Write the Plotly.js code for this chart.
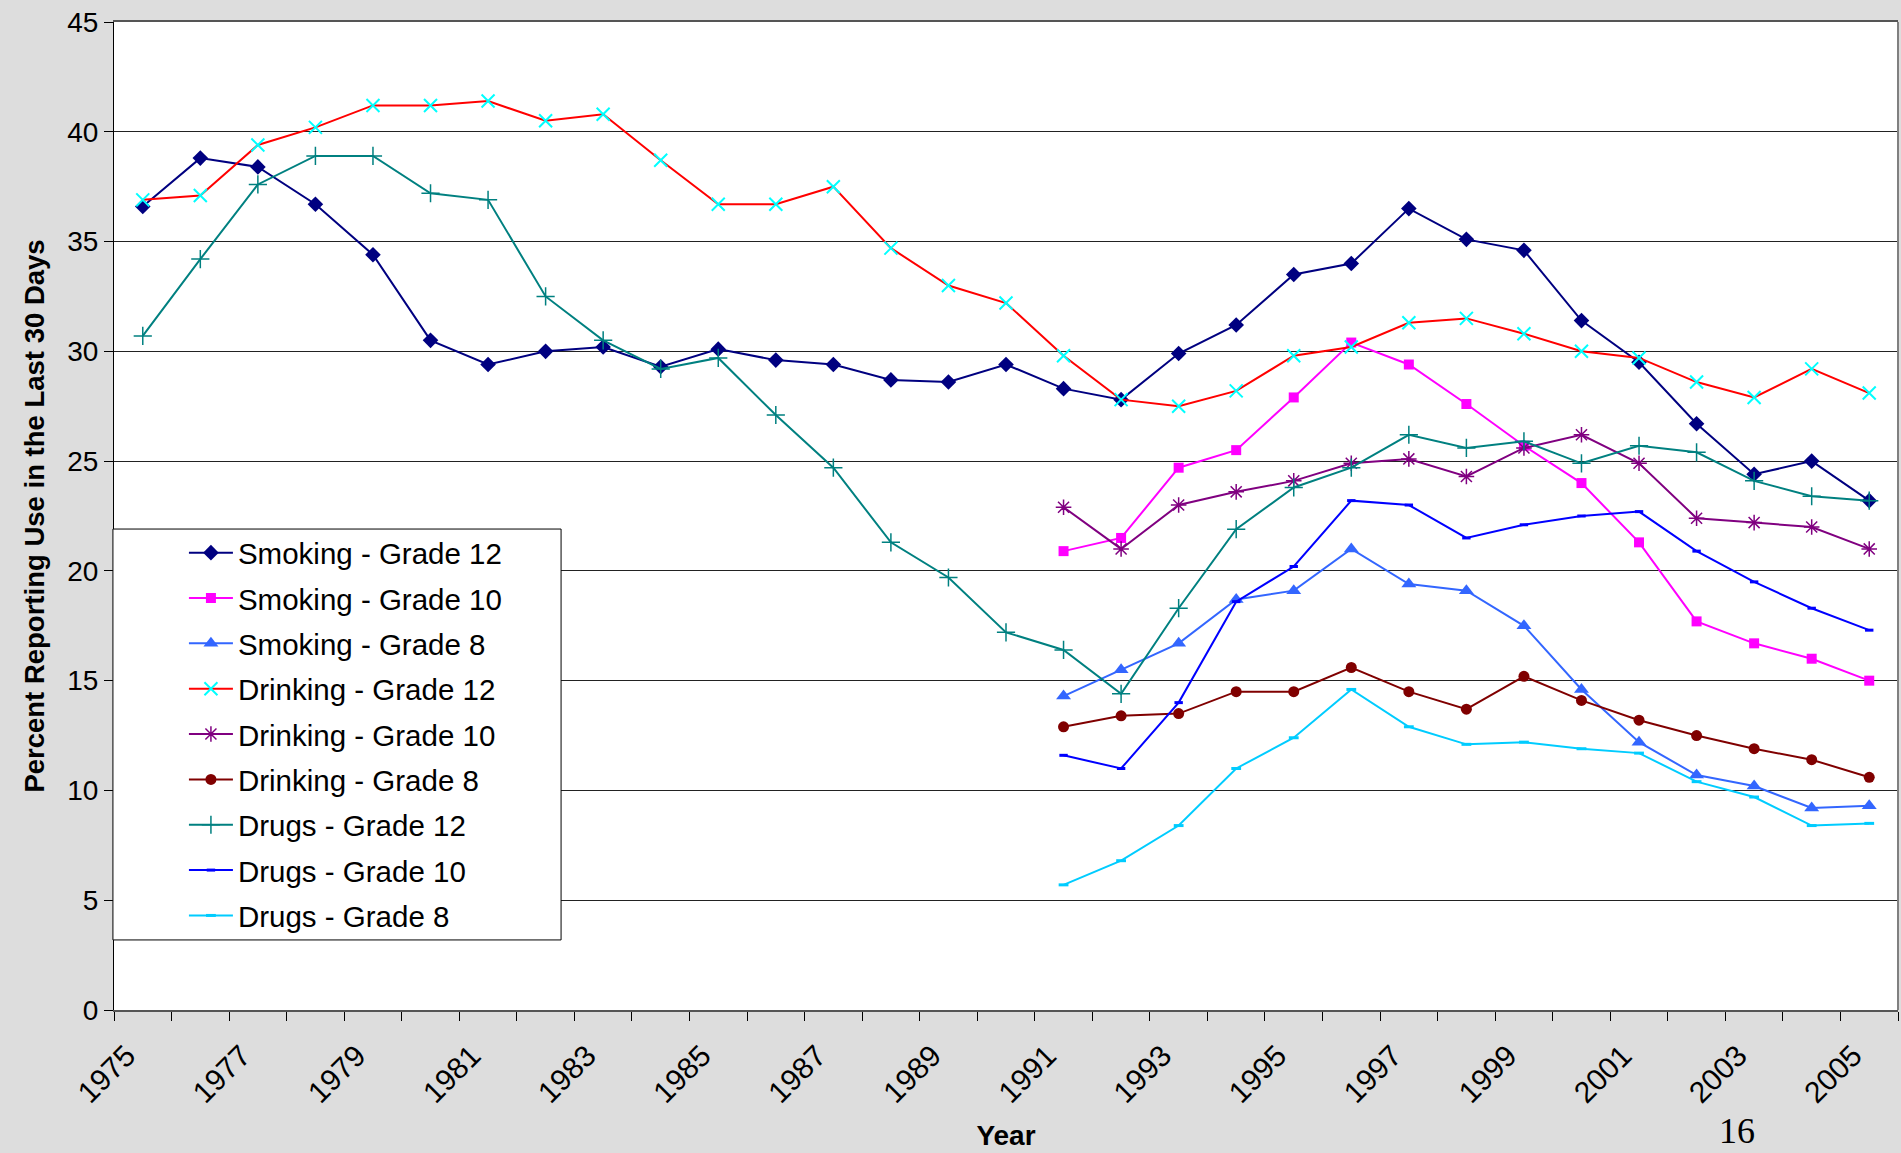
<!DOCTYPE html>
<html>
<head>
<meta charset="utf-8">
<script src="https://cdn.plot.ly/plotly-3.0.1.min.js"></script>
<style>
  html, body { margin: 0; padding: 0; background: #dddddd; }
  #chart { width: 1901px; height: 1153px; }
</style>
</head>
<body>
<div id="chart"></div>
<script>
// ---- Data (percent reporting use in the last 30 days) ----
const yearsAll = [1975,1976,1977,1978,1979,1980,1981,1982,1983,1984,1985,1986,1987,1988,1989,1990,
                  1991,1992,1993,1994,1995,1996,1997,1998,1999,2000,2001,2002,2003,2004,2005];
const yearsRecent = [1991,1992,1993,1994,1995,1996,1997,1998,1999,2000,2001,2002,2003,2004,2005];

const smokingGrade12 = [36.6,38.8,38.4,36.7,34.4,30.5,29.4,30.0,30.2,29.3,30.1,29.6,29.4,28.7,28.6,29.4,
                        28.3,27.8,29.9,31.2,33.5,34.0,36.5,35.1,34.6,31.4,29.5,26.7,24.4,25.0,23.2];
const smokingGrade10 = [20.9,21.5,24.7,25.5,27.9,30.4,29.4,27.6,25.7,24.0,21.3,17.7,16.7,16.0,15.0];
const smokingGrade8  = [14.3,15.5,16.7,18.7,19.1,21.0,19.4,19.1,17.5,14.6,12.2,10.7,10.2,9.2,9.3];

const drinkingGrade12 = [36.9,37.1,39.4,40.2,41.2,41.2,41.4,40.5,40.8,38.7,36.7,36.7,37.5,34.7,33.0,32.2,
                         29.8,27.8,27.5,28.2,29.8,30.2,31.3,31.5,30.8,30.0,29.7,28.6,27.9,29.2,28.1];
const drinkingGrade10 = [22.9,21.0,23.0,23.6,24.1,24.9,25.1,24.3,25.6,26.2,24.9,22.4,22.2,22.0,21.0];
const drinkingGrade8  = [12.9,13.4,13.5,14.5,14.5,15.6,14.5,13.7,15.2,14.1,13.2,12.5,11.9,11.4,10.6];

const drugsGrade12 = [30.7,34.2,37.6,38.9,38.9,37.2,36.9,32.5,30.5,29.2,29.7,27.1,24.7,21.3,19.7,17.2,
                      16.4,14.4,18.3,21.9,23.8,24.7,26.2,25.6,25.9,24.9,25.7,25.4,24.1,23.4,23.2];
const drugsGrade10 = [11.6,11.0,14.0,18.6,20.2,23.2,23.0,21.5,22.1,22.5,22.7,20.9,19.5,18.3,17.3];
const drugsGrade8  = [5.7,6.8,8.4,11.0,12.4,14.6,12.9,12.1,12.2,11.9,11.7,10.4,9.7,8.4,8.5];

const xTickYears = [1975,1977,1979,1981,1983,1985,1987,1989,1991,1993,1995,1997,1999,2001,2003,2005];
const xTickLabels = xTickYears.map(String);
const yTicks = [0,5,10,15,20,25,30,35,40,45];

// ---- Styling ----
const FONT = 'Arial, "Liberation Sans", sans-serif';

function series(name, x, y, lineColor, marker, group) {
  return {
    type: 'scatter', mode: 'lines+markers', name: name, x: x, y: y,
    legendgroup: group,
    line: { color: lineColor, width: 2 },
    marker: marker,
    hoverinfo: 'x+y+name'
  };
}

const traces = [
  series('Smoking - Grade 12', yearsAll, smokingGrade12, '#000080',
         { symbol: 'diamond', size: 12, color: '#000080' }, 'g1'),
  series('Smoking - Grade 10', yearsRecent, smokingGrade10, '#ff00ff',
         { symbol: 'square', size: 10, color: '#ff00ff' }, 'g2'),
  series('Smoking - Grade 8', yearsRecent, smokingGrade8, '#3366ff',
         { symbol: 'triangle-up', size: 13, color: '#3366ff' }, 'g3'),
  series('Drinking - Grade 12', yearsAll, drinkingGrade12, '#ff0000',
         { symbol: 'x-thin-open', size: 13, color: '#00ffff', line: { color: '#00ffff', width: 2 } }, 'g4'),
  series('Drinking - Grade 10', yearsRecent, drinkingGrade10, '#800080',
         { symbol: 'asterisk-open', size: 13, color: '#800080', line: { color: '#800080', width: 1.5 } }, 'g5'),
  series('Drinking - Grade 8', yearsRecent, drinkingGrade8, '#800000',
         { symbol: 'circle', size: 11, color: '#800000' }, 'g6'),
  series('Drugs - Grade 12', yearsAll, drugsGrade12, '#008080',
         { symbol: 'cross-thin-open', size: 13, color: '#008080', line: { color: '#008080', width: 1.5 } }, 'g7'),
  series('Drugs - Grade 10', yearsRecent, drugsGrade10, '#0000ff',
         { symbol: 'line-ew-open', size: 6, color: '#0000ff', line: { color: '#0000ff', width: 3 } }, 'g8'),
  series('Drugs - Grade 8', yearsRecent, drugsGrade8, '#00ccff',
         { symbol: 'line-ew-open', size: 7, color: '#00ccff', line: { color: '#00ccff', width: 3 } }, 'g9')
];

const layout = {
  width: 1901, height: 1153,
  paper_bgcolor: '#dddddd',
  plot_bgcolor: '#ffffff',
  margin: { l: 114, r: 3, t: 22, b: 143 },
  font: { family: FONT, size: 28, color: '#000000' },
  showlegend: true,
  legend: {
    x: 0.0392, xanchor: 'left',
    y: 0.4889, yanchor: 'top',
    bgcolor: 'rgba(0,0,0,0)',
    borderwidth: 0,
    itemwidth: 44,
    font: { family: FONT, size: 29.5, color: '#000000' },
    tracegroupgap: 4,
    traceorder: 'grouped'
  },
  xaxis: {
    range: [1974.5, 2005.5],
    tickmode: 'array',
    tickvals: xTickYears,
    ticktext: xTickLabels,
    tickangle: -45,
    ticks: '',
    ticklabelstandoff: 14,
    ticklabelshift: -16,
    showgrid: false,
    zeroline: false,
    showline: true,
    linecolor: '#555555',
    linewidth: 2,
    mirror: true,
    tickfont: { family: FONT, size: 30, color: '#000000' },
    minor: { tick0: 1974.5, dtick: 1, ticks: 'outside', ticklen: 9, tickcolor: '#000000', tickwidth: 1, showgrid: false },
    title: { text: '<b>Year</b>', font: { family: FONT, size: 28, color: '#000000' }, standoff: 17 },
    fixedrange: true
  },
  yaxis: {
    range: [0, 45],
    tickmode: 'array',
    tickvals: yTicks,
    ticks: 'outside',
    ticklen: 9,
    tickcolor: '#000000',
    showgrid: true,
    gridcolor: '#222222',
    gridwidth: 1,
    zeroline: false,
    showline: true,
    linecolor: '#000000',
    linewidth: 1,
    tickfont: { family: FONT, size: 28, color: '#000000' },
    title: { text: '<b>Percent Reporting Use in the Last 30 Days</b>', font: { family: FONT, size: 27.5, color: '#000000' }, standoff: 14 },
    fixedrange: true
  },
  shapes: [
    // right border of the plot area
    { type: 'line', xref: 'paper', yref: 'paper', x0: 1, x1: 1, y0: 0, y1: 1,
      line: { color: '#808080', width: 2 } },
    // legend box
    { type: 'rect', xref: 'paper', yref: 'paper', layer: 'above',
      x0: -0.0006, x1: 0.2506, y0: 0.0709, y1: 0.4868,
      fillcolor: '#ffffff', line: { color: '#000000', width: 1 } }
  ],
  annotations: [
    { text: '16', xref: 'paper', yref: 'paper', x: 0.9097, y: -0.1225,
      xanchor: 'center', yanchor: 'middle', showarrow: false,
      font: { family: '"Liberation Serif", "Times New Roman", serif', size: 36, color: '#000000' } }
  ]
};

Plotly.newPlot('chart', traces, layout, { displayModeBar: false, staticPlot: true });
</script>
</body>
</html>
